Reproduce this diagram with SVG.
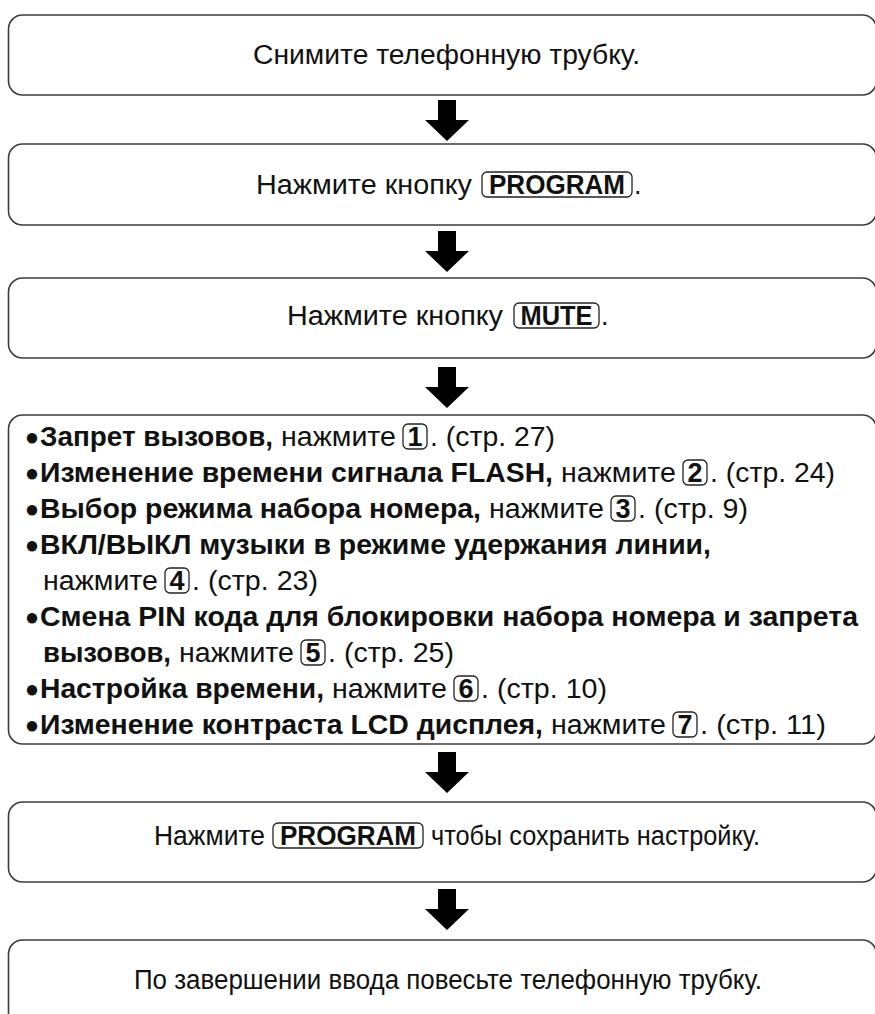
<svg xmlns="http://www.w3.org/2000/svg" width="875" height="1014" viewBox="0 0 875 1014">
<style>
.box{fill:#fff;stroke:#3c3c3c;stroke-width:1.6}
.key{fill:none;stroke:#222;stroke-width:1.3}
.t{font-family:"Liberation Sans",Arial,Helvetica,sans-serif;font-size:27px;fill:#111}
.b{font-weight:bold}
.k{font-weight:bold;text-anchor:middle}
.bul{font-family:"Liberation Sans","DejaVu Sans",sans-serif;font-size:24px;fill:#111;text-anchor:middle}
.arr{fill:#000}
</style>
<defs>
<path id="arrow" d="M-9,0 H9 V20 H22 L0,41 L-22,20 H-9 Z"/>
</defs>
<rect width="875" height="1014" fill="#fff"/>

<g id="connectors" class="arr">
<use href="#arrow" transform="translate(447,100)"/>
<use href="#arrow" transform="translate(447,231)"/>
<use href="#arrow" transform="translate(447,367)"/>
<use href="#arrow" transform="translate(447,752)"/>
<use href="#arrow" transform="translate(447,889)"/>
</g>

<g id="step1">
<rect class="box" x="8.5" y="15" width="868" height="80" rx="14"/>
<text class="t" x="253" y="64" textLength="387" lengthAdjust="spacingAndGlyphs">Снимите телефонную трубку.</text>
</g>

<g id="step2">
<rect class="box" x="8.5" y="144" width="868" height="81" rx="14"/>
<text class="t" x="256" y="194" textLength="216" lengthAdjust="spacingAndGlyphs">Нажмите кнопку</text>
<rect class="key" x="482" y="172" width="150" height="25" rx="5"/>
<text class="t k" x="557" y="194" textLength="136" lengthAdjust="spacingAndGlyphs">PROGRAM</text>
<text class="t" x="634" y="194">.</text>
</g>

<g id="step3">
<rect class="box" x="8.5" y="278" width="868" height="80" rx="14"/>
<text class="t" x="287" y="325" textLength="216" lengthAdjust="spacingAndGlyphs">Нажмите кнопку</text>
<rect class="key" x="514" y="303" width="85" height="25" rx="5"/>
<text class="t k" x="556.5" y="325" textLength="72" lengthAdjust="spacingAndGlyphs">MUTE</text>
<text class="t" x="601" y="325">.</text>
</g>

<g id="step4">
<rect class="box" x="8.5" y="415" width="868" height="329" rx="14"/>
<!-- line 1 -->
<text class="bul" x="32" y="445">●</text>
<text class="t b" x="40" y="446" textLength="233" lengthAdjust="spacingAndGlyphs">Запрет вызовов,</text>
<text class="t" x="281" y="446" textLength="115" lengthAdjust="spacingAndGlyphs">нажмите</text>
<rect class="key" x="403" y="424" width="24" height="25" rx="5"/>
<text class="t k" x="415" y="446">1</text>
<text class="t" x="430" y="446" textLength="125" lengthAdjust="spacingAndGlyphs">. (стр. 27)</text>
<!-- line 2 -->
<text class="bul" x="32" y="481">●</text>
<text class="t b" x="40" y="482" textLength="513" lengthAdjust="spacingAndGlyphs">Изменение времени сигнала FLASH,</text>
<text class="t" x="561" y="482" textLength="115" lengthAdjust="spacingAndGlyphs">нажмите</text>
<rect class="key" x="683" y="460" width="24" height="25" rx="5"/>
<text class="t k" x="695" y="482">2</text>
<text class="t" x="710" y="482" textLength="125" lengthAdjust="spacingAndGlyphs">. (стр. 24)</text>
<!-- line 3 -->
<text class="bul" x="32" y="517">●</text>
<text class="t b" x="40" y="518" textLength="441" lengthAdjust="spacingAndGlyphs">Выбор режима набора номера,</text>
<text class="t" x="489" y="518" textLength="115" lengthAdjust="spacingAndGlyphs">нажмите</text>
<rect class="key" x="611" y="496" width="24" height="25" rx="5"/>
<text class="t k" x="623" y="518">3</text>
<text class="t" x="638" y="518" textLength="110" lengthAdjust="spacingAndGlyphs">. (стр. 9)</text>
<!-- line 4 -->
<text class="bul" x="32" y="553">●</text>
<text class="t b" x="40" y="554" textLength="671" lengthAdjust="spacingAndGlyphs">ВКЛ/ВЫКЛ музыки в режиме удержания линии,</text>
<!-- line 5 -->
<text class="t" x="43" y="590" textLength="115" lengthAdjust="spacingAndGlyphs">нажмите</text>
<rect class="key" x="165" y="568" width="24" height="25" rx="5"/>
<text class="t k" x="177" y="590">4</text>
<text class="t" x="192" y="590" textLength="126" lengthAdjust="spacingAndGlyphs">. (стр. 23)</text>
<!-- line 6 -->
<text class="bul" x="32" y="625">●</text>
<text class="t b" x="40" y="626" textLength="818" lengthAdjust="spacingAndGlyphs">Смена PIN кода для блокировки набора номера и запрета</text>
<!-- line 7 -->
<text class="t b" x="43" y="662" textLength="128" lengthAdjust="spacingAndGlyphs">вызовов,</text>
<text class="t" x="179" y="662" textLength="115" lengthAdjust="spacingAndGlyphs">нажмите</text>
<rect class="key" x="301" y="640" width="24" height="25" rx="5"/>
<text class="t k" x="313" y="662">5</text>
<text class="t" x="328" y="662" textLength="126" lengthAdjust="spacingAndGlyphs">. (стр. 25)</text>
<!-- line 8 -->
<text class="bul" x="32" y="697">●</text>
<text class="t b" x="40" y="698" textLength="284" lengthAdjust="spacingAndGlyphs">Настройка времени,</text>
<text class="t" x="332" y="698" textLength="115" lengthAdjust="spacingAndGlyphs">нажмите</text>
<rect class="key" x="454" y="676" width="24" height="25" rx="5"/>
<text class="t k" x="466" y="698">6</text>
<text class="t" x="481" y="698" textLength="126" lengthAdjust="spacingAndGlyphs">. (стр. 10)</text>
<!-- line 9 -->
<text class="bul" x="32" y="733">●</text>
<text class="t b" x="40" y="734" textLength="503" lengthAdjust="spacingAndGlyphs">Изменение контраста LCD дисплея,</text>
<text class="t" x="551" y="734" textLength="115" lengthAdjust="spacingAndGlyphs">нажмите</text>
<rect class="key" x="673" y="712" width="24" height="25" rx="5"/>
<text class="t k" x="685" y="734">7</text>
<text class="t" x="700" y="734" textLength="126" lengthAdjust="spacingAndGlyphs">. (стр. 11)</text>
</g>

<g id="step5">
<rect class="box" x="8.5" y="802" width="868" height="80" rx="14"/>
<text class="t" x="154" y="845" textLength="111" lengthAdjust="spacingAndGlyphs">Нажмите</text>
<rect class="key" x="273" y="823" width="150" height="25" rx="5"/>
<text class="t k" x="348" y="845" textLength="136" lengthAdjust="spacingAndGlyphs">PROGRAM</text>
<text class="t" x="431" y="845" textLength="329" lengthAdjust="spacingAndGlyphs">чтобы сохранить настройку.</text>
</g>

<g id="step6">
<rect class="box" x="8.5" y="940" width="868" height="90" rx="14"/>
<text class="t" x="134" y="989" textLength="628" lengthAdjust="spacingAndGlyphs">По завершении ввода повесьте телефонную трубку.</text>
</g>
</svg>
